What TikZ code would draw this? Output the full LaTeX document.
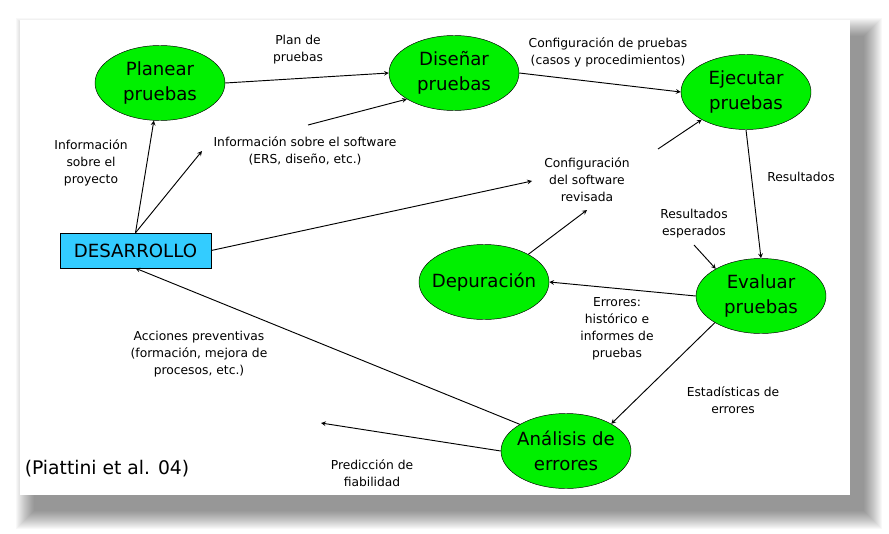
\documentclass[tikz,border=0pt]{standalone}
\usepackage{fontspec}
\setmainfont{DejaVu Sans}
\usetikzlibrary{shapes.geometric}
\definecolor{verde}{RGB}{0,240,0}
\definecolor{celeste}{RGB}{51,204,255}

\begin{document}
\begin{tikzpicture}[x=0.03cm,y=-0.03cm,>=stealth,
   proceso/.style={ellipse,draw,fill=verde,minimum width=3.9cm,minimum height=2.25cm,
     inner xsep=-0.3cm,inner ysep=0pt,align=center,font=\fontsize{15.5}{21}\selectfont},
   etiqueta/.style={align=center,font=\fontsize{10.5}{14.5}\selectfont},
   flujo/.style={->,line width=0.8pt}]
   \useasboundingbox (0,0) rectangle (889,534);
 
   % sombra y hoja
   \foreach \r in {18,17,...,0}
     \fill[black,opacity=0.026] (34-\r,36-\r) rectangle (864+\r,511+\r);
   \fill[white] (20,20) rectangle (850,495);
 
   % actividades
   \node[proceso] (plan) at (160,83) {Planear\\pruebas};
   \node[proceso] (dis) at (454,73) {Diseñar\\pruebas};
   \node[proceso] (eje) at (746,92) {Ejecutar\\pruebas};
   \node[proceso] (eva) at (761,296) {Evaluar\\pruebas};
   \node[proceso] (dep) at (484,282) {Depuración};
   \node[proceso] (ana) at (566,451) {Análisis de\\errores};
   \node[draw,fill=celeste,minimum width=4.53cm,minimum height=1.05cm,
     font=\fontsize{15.5}{21}\selectfont] (des) at (135.5,250.5) {DESARROLLO};
 
   % extremos libres
   \coordinate (infsw) at (202,151);
   \coordinate (infsw2) at (308,125);
   \coordinate (confsw) at (532,181);
   \coordinate (confsw2) at (587,210);
   \coordinate (confsw3) at (658,149);
   \coordinate (resesp) at (694,245);
   \coordinate (pred) at (321,423);
 
   % flujos
   \draw[flujo] (des.north) -- (plan);
   \draw[flujo] (des.north) -- (infsw);
   \draw[flujo] (infsw2) -- (dis.209);
   \draw[flujo] (plan.east) -- (dis.west);
   \draw[flujo] (dis.east) -- (eje.west);
   \draw[flujo] (confsw3) -- (eje.212);
   \draw[flujo] (des.east) -- (confsw);
   \draw[flujo] (dep.32) -- (confsw2);
   \draw[flujo] (eje.south) -- (eva.north);
   \draw[flujo] (resesp) -- (eva.149);
   \draw[flujo] (eva.west) -- (dep.east);
   \draw[flujo] (eva.210) -- (ana.31);
   \draw[flujo] (ana.150) -- (des.south);
   \draw[flujo] (ana.west) -- (pred);
 
   % etiquetas
   \node[etiqueta] (lplan) at (298,50) {Plan de\\pruebas};
   \node[etiqueta] (linfsw) at (305,151) {Información sobre el software\\(ERS, diseño, etc.)};
   \node[etiqueta] (linfpr) at (91,163) {Información\\sobre el\\proyecto};
   \node[etiqueta] (lconfpr) at (608,52) {Configuración de pruebas\\(casos y procedimientos)};
   \node[etiqueta] (lconfsw) at (587,180) {Configuración\\del software\\revisada};
   \node[etiqueta] (lres) at (801,177) {Resultados};
   \node[etiqueta] (lresesp) at (694,224) {Resultados\\esperados};
   \node[etiqueta] (lerr) at (617,329) {Errores:\\histórico e\\informes de\\pruebas};
   \node[etiqueta] (lest) at (733,400) {Estadísticas de\\errores};
   \node[etiqueta] (lacc) at (199,354) {Acciones preventivas\\(formación, mejora de\\procesos, etc.)};
   \node[etiqueta] (lpred) at (372,473) {Predicción de\\fiabilidad};
   \node[font=\fontsize{16}{20}\selectfont] (fuente) at (107,469) {(Piattini et al. 04)};
 
\end{tikzpicture}
\end{document}
